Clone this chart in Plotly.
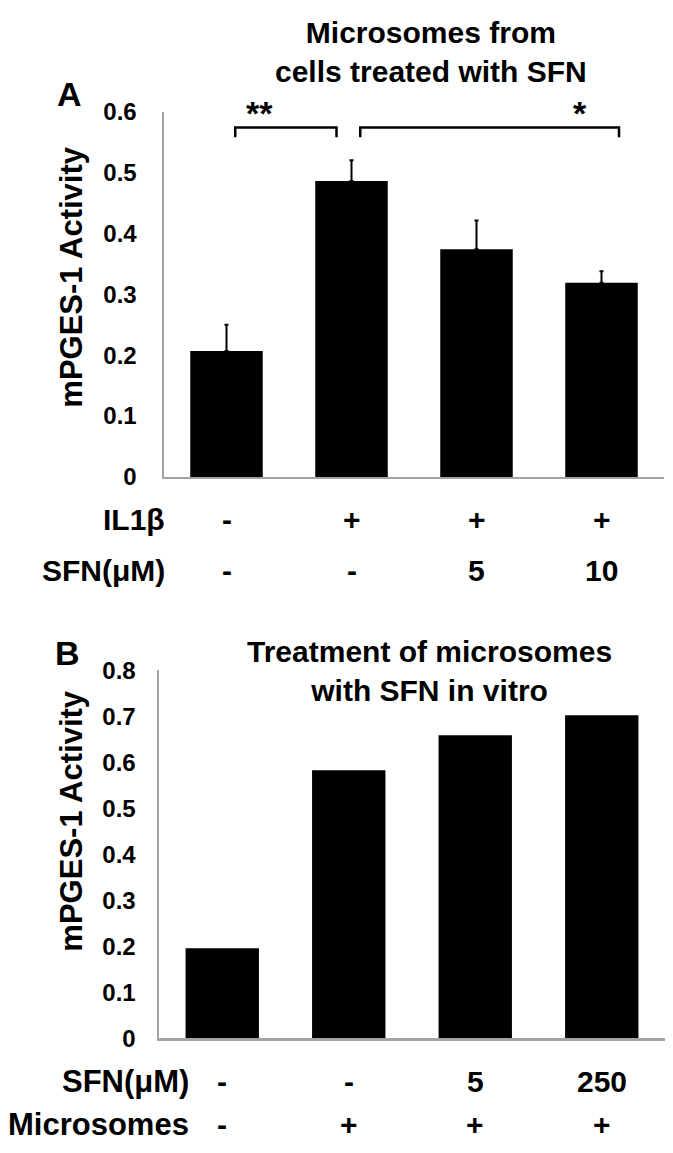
import plotly.graph_objects as go

# ---------------- data ----------------
# Panel A: microsomes from cells treated with SFN
a_values = [0.207, 0.486, 0.374, 0.319]
a_errors = [0.043, 0.034, 0.047, 0.019]
a_il1b = ["-", "+", "+", "+"]
a_sfn = ["-", "-", "5", "10"]
a_yticks = [0, 0.1, 0.2, 0.3, 0.4, 0.5, 0.6]
a_ticktext = ["0", "0.1", "0.2", "0.3", "0.4", "0.5", "0.6"]

# Panel B: treatment of microsomes with SFN in vitro
b_values = [0.196, 0.583, 0.659, 0.702]
b_sfn = ["-", "-", "5", "250"]
b_micro = ["-", "+", "+", "+"]
b_yticks = [0, 0.1, 0.2, 0.3, 0.4, 0.5, 0.6, 0.7, 0.8]
b_ticktext = ["0", "0.1", "0.2", "0.3", "0.4", "0.5", "0.6", "0.7", "0.8"]

# significance brackets in panel A (category coordinates)
sig_x0 = [0.07, 1.07]
sig_x1 = [0.88, 3.14]
sig_star = ["**", "*"]
sig_star_x = [0.265, 2.83]
sig_top = 0.574
sig_tail = 0.558
sig_star_y = 0.598

FONT = "Liberation Sans, Arial, Helvetica, sans-serif"
W, H = 673, 1153

def px_x(p):
    return p / W

def px_y(p):
    return 1 - p / H

xa = list(range(len(a_values)))
xb = list(range(len(b_values)))

fig = go.Figure()
fig.add_trace(go.Bar(
    x=xa, y=a_values, marker=dict(color="black", line=dict(width=0)),
    error_y=dict(type="data", symmetric=False, array=a_errors,
                 arrayminus=[0] * len(a_errors), color="black",
                 thickness=2, width=2),
    xaxis="x", yaxis="y", showlegend=False,
))
fig.add_trace(go.Bar(
    x=xb, y=b_values, marker=dict(color="black", line=dict(width=0)),
    xaxis="x2", yaxis="y2", showlegend=False,
))

axis_line = dict(showline=True, linecolor="#a3a3a3", linewidth=2.5,
                 showgrid=False, zeroline=False, ticks="")
tickfont = dict(family=FONT, size=24, color="black", weight="bold")

fig.update_layout(
    width=W, height=H,
    margin=dict(l=0, r=0, t=0, b=0),
    paper_bgcolor="white", plot_bgcolor="white",
    bargap=0.42,
    hovermode=False,
    xaxis=dict(domain=[px_x(164), px_x(664)], range=[-0.5, 3.5],
               showticklabels=False, anchor="y", **axis_line),
    yaxis=dict(domain=[px_y(474), px_y(100)], range=[0, 0.6],
               tickvals=a_yticks, ticktext=a_ticktext, tickfont=tickfont,
               ticklabelstandoff=20, anchor="x", **axis_line),
    xaxis2=dict(domain=[px_x(159), px_x(665)], range=[-0.5, 3.5],
                showticklabels=False, anchor="y2", **axis_line),
    yaxis2=dict(domain=[px_y(1049), px_y(672)], range=[0, 0.8],
                tickvals=b_yticks, ticktext=b_ticktext, tickfont=tickfont,
                ticklabelstandoff=16, anchor="x2", **axis_line),
)

ann = []
bold = lambda s: dict(family=FONT, size=s, color="black", weight="bold")

# panel letters
ann.append(dict(text="A", x=px_x(69), y=px_y(82), xref="paper", yref="paper",
                showarrow=False, font=bold(34), xanchor="center", yanchor="middle"))
ann.append(dict(text="B", x=px_x(67), y=px_y(654), xref="paper", yref="paper",
                showarrow=False, font=bold(34), xanchor="center", yanchor="middle"))

# titles
ann.append(dict(text="Microsomes from<br>cells treated with SFN", x=px_x(431), y=px_y(39),
                xref="paper", yref="paper", showarrow=False, font=bold(30),
                xanchor="center", yanchor="middle"))
ann.append(dict(text="Treatment of microsomes<br>with SFN in vitro", x=px_x(430), y=px_y(673),
                xref="paper", yref="paper", showarrow=False, font=bold(30),
                xanchor="center", yanchor="middle"))

# y-axis titles
for yc in (270, 827):
    ann.append(dict(text="mPGES-1 Activity", x=px_x(72), y=px_y(yc), xref="paper",
                    yref="paper", showarrow=False, font=bold(31), textangle=-90,
                    xanchor="center", yanchor="middle"))

# row labels panel A
rows_a = [("IL1β", a_il1b, 518), ("SFN(μM)", a_sfn, 570)]
for label, vals, yp in rows_a:
    ann.append(dict(text=label, x=px_x(167), y=px_y(yp), xref="paper", yref="paper",
                    showarrow=False, font=bold(30), xanchor="right", yanchor="middle"))
    for i, v in enumerate(vals):
        ann.append(dict(text=v, x=xa[i], y=px_y(yp), xref="x", yref="paper",
                        showarrow=False, font=bold(30), xanchor="center", yanchor="middle"))

# row labels panel B
rows_b = [("SFN(μM)", b_sfn, 1093), ("Microsomes", b_micro, 1137)]
for label, vals, yp in rows_b:
    ann.append(dict(text=label, x=px_x(191), y=px_y(yp), xref="paper", yref="paper",
                    showarrow=False, font=bold(31), xanchor="right", yanchor="middle"))
    for i, v in enumerate(vals):
        ann.append(dict(text=v, x=xb[i], y=px_y(yp), xref="x2", yref="paper",
                        showarrow=False, font=bold(30), xanchor="center", yanchor="middle"))

# significance brackets
shapes = []
for x0, x1, st, sx in zip(sig_x0, sig_x1, sig_star, sig_star_x):
    shapes.append(dict(type="path", xref="x", yref="y",
                       path=f"M {x0},{sig_tail} L {x0},{sig_top} L {x1},{sig_top} L {x1},{sig_tail}",
                       line=dict(color="black", width=2.5)))
    ann.append(dict(text=st, x=sx, y=sig_star_y, xref="x", yref="y", showarrow=False,
                    font=bold(34), xanchor="center", yanchor="middle"))

fig.update_layout(annotations=ann, shapes=shapes)
fig.write_html("out.html", config={"displayModeBar": False, "staticPlot": True},
               post_script="document.body.style.margin='0';")
